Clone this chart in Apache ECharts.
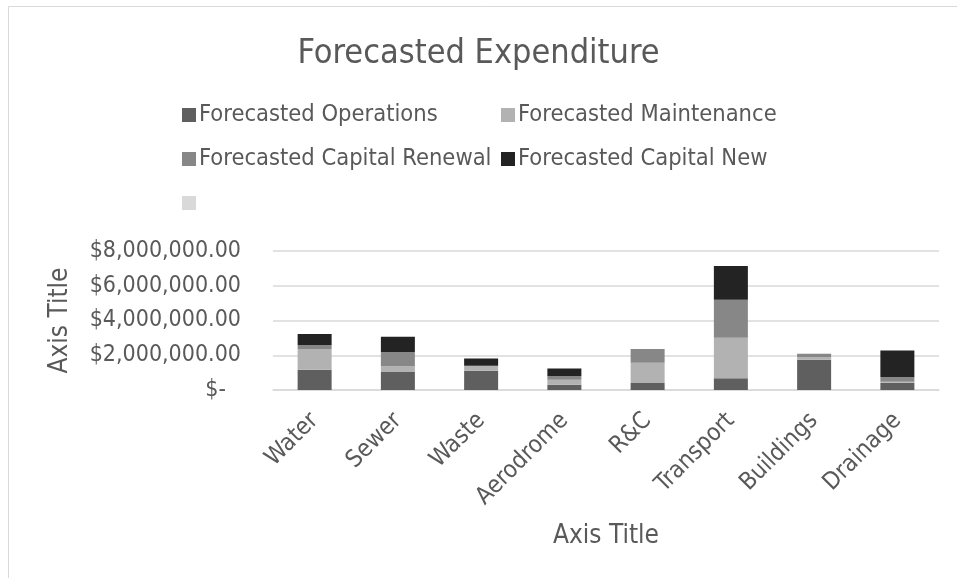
<!DOCTYPE html>
<html>
<head>
<meta charset="utf-8">
<script src="https://cdn.jsdelivr.net/npm/echarts@6/dist/echarts.min.js"></script>
<style>html,body{margin:0;padding:0;background:#fff}#c{width:957px;height:578px}</style>
</head>
<body>
<div id="c"></div>
<script>
const categories = ['Water','Sewer','Waste','Aerodrome','R&C','Transport','Buildings','Drainage'];
const operations = [1170000,1030000,1110000,300000,400000,670000,1740000,420000];
const maintenance = [1190000,340000,290000,290000,1170000,2340000,150000,60000];
const capitalRenewal = [230000,820000,0,210000,790000,2180000,190000,270000];
const capitalNew = [630000,880000,420000,440000,0,1950000,0,1530000];
const blankSeries = [0,0,0,0,0,0,0,0];
const yTicks = [0,2000000,4000000,6000000,8000000];

const FONT = 'DejaVu Sans Condensed';
const TXT = '#595959';
const chart = echarts.init(document.getElementById('c'));
function mk(name, data, color){
  return {name, type:'bar', stack:'t', data, barWidth:34, itemStyle:{color}, emphasis:{disabled:true}};
}
chart.setOption({
  animation:false,
  textStyle:{fontFamily:FONT},
  graphic:[{type:'rect', shape:{x:8.5,y:6.5,width:1000,height:600}, style:{fill:'none',stroke:'#d9d9d9',lineWidth:1}}],
  title:{text:'Forecasted Expenditure', left:'center', top:32, textStyle:{fontFamily:FONT,fontSize:34,fontWeight:'normal',color:TXT}},
  legend:[
    {orient:'vertical', left:177, top:98, itemWidth:14, itemHeight:14, itemGap:20, icon:'rect',
     data:['Forecasted Operations','Forecasted Capital Renewal',' '],
     textStyle:{fontFamily:FONT,fontSize:23.5,color:TXT,padding:[0,0,0,-2]}, selectedMode:false},
    {orient:'vertical', left:496, top:98, itemWidth:14, itemHeight:14, itemGap:20, icon:'rect',
     data:['Forecasted Maintenance','Forecasted Capital New'],
     textStyle:{fontFamily:FONT,fontSize:23.5,color:TXT,padding:[0,0,0,-2]}, selectedMode:false}
  ],
  grid:{left:273, right:18, top:251, bottom:188, containLabel:false},
  xAxis:{type:'category', data:categories,
    axisLine:{lineStyle:{color:'#d9d9d9',width:1.5}}, axisTick:{show:false},
    axisLabel:{rotate:45, fontSize:24, color:TXT, fontFamily:FONT, margin:27, interval:0},
    name:'Axis Title', nameLocation:'middle', nameGap:133,
    nameTextStyle:{fontSize:26,color:TXT,fontFamily:FONT}},
  yAxis:{type:'value', min:yTicks[0], max:yTicks[yTicks.length-1], interval:yTicks[1]-yTicks[0],
    axisLine:{show:false}, axisTick:{show:false},
    splitLine:{lineStyle:{color:'#d9d9d9',width:1.5}},
    axisLabel:{fontSize:23, color:TXT, fontFamily:FONT, margin:32,
      formatter:function(v){ if(v===0) return '{z|$-}'; return '$'+v.toLocaleString('en-US',{minimumFractionDigits:2,maximumFractionDigits:2}); },
      rich:{z:{fontSize:23,color:TXT,fontFamily:FONT,padding:[0,15,0,0]}}},
    name:'Axis Title', nameLocation:'middle', nameGap:200,
    nameTextStyle:{fontSize:26,color:TXT,fontFamily:FONT}},
  series:[
    mk('Forecasted Operations', operations, '#5f5f5f'),
    mk('Forecasted Maintenance', maintenance, '#b2b2b2'),
    mk('Forecasted Capital Renewal', capitalRenewal, '#878787'),
    mk('Forecasted Capital New', capitalNew, '#232323'),
    mk(' ', blankSeries, '#d9d9d9')
  ]
});
</script>
</body>
</html>
